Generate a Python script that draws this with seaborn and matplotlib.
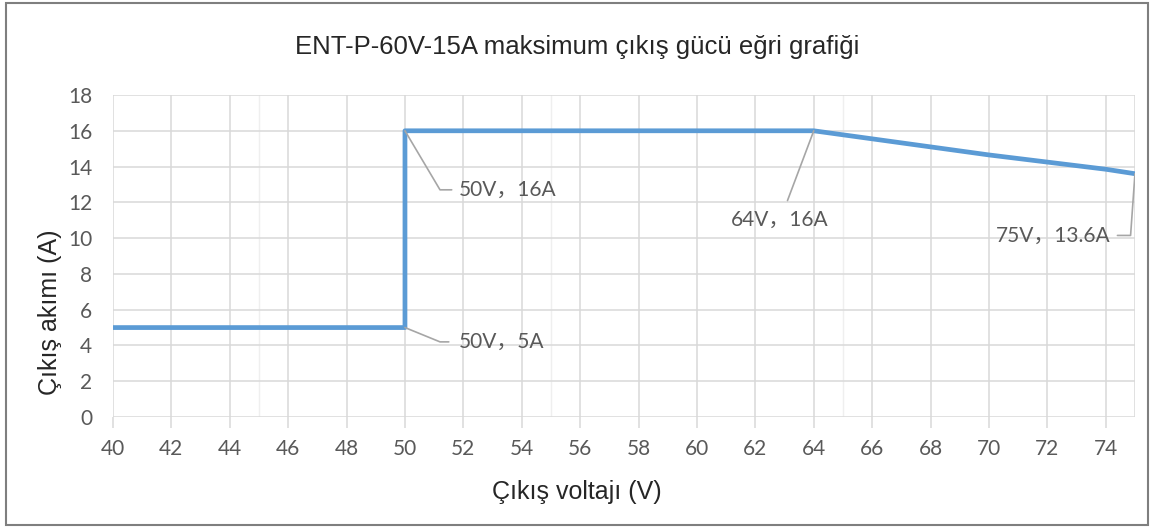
import matplotlib
matplotlib.use("Agg")
import matplotlib.pyplot as plt
import seaborn as sns
import pandas as pd
from matplotlib.patches import Rectangle

# values
voltage = [40, 50, 50, 64, 66, 68, 70, 72, 74, 75]
current = [5, 5, 16, 16, 15.55, 15.1, 14.65, 14.25, 13.85, 13.6]

callouts = ["50V，16A", "50V，5A", "64V，16A", "75V，13.6A"]

title = "ENT-P-60V-15A maksimum çıkış gücü eğri grafiği"
xlabel = "Çıkış voltajı (V)"
ylabel = "Çıkış akımı (A)"

df = pd.DataFrame({"V": voltage, "I": current})

sns.set_style("white")
plt.rcParams["font.family"] = ["Liberation Sans", "DejaVu Sans"]

fig = plt.figure(figsize=(11.54, 5.29), dpi=100)
ax = fig.add_axes([0.0979, 0.2117, 0.8856, 0.6087])

line_color = "#5B9BD5"
grid_color = "#D9D9D9"
text_color = "#595959"
label_font = ["Lato", "Noto Sans CJK SC", "DejaVu Sans"]

sns.lineplot(data=df, x="V", y="I", ax=ax, color=line_color, linewidth=3.4,
             sort=False, estimator=None, zorder=3)

ax.set_xlim(40, 75)
ax.set_ylim(0, 18)
ax.set_xticks(range(40, 75, 2))
ax.set_yticks(range(0, 19, 2))
ax.set_xticks([45, 55, 65], minor=True)
ax.grid(True, which="major", color=grid_color, linewidth=1.1, zorder=0)
ax.grid(True, which="minor", axis="x", color="#EFEFEF", linewidth=1.0, zorder=0)
ax.axvline(75, color=grid_color, linewidth=1.1, zorder=0)
for s in ax.spines.values():
    s.set_visible(False)

ax.tick_params(axis="x", which="major", length=8, width=1.1, color=grid_color,
               direction="out", pad=8, bottom=True)
ax.tick_params(axis="x", which="minor", length=0)
ax.tick_params(axis="y", length=0, pad=15)
for t in ax.get_xticklabels() + ax.get_yticklabels():
    t.set_family(label_font)
    t.set_fontsize(15)
    t.set_color(text_color)

ax.set_xlabel("")
ax.set_ylabel("")
fig.text(0.5, 0.070, xlabel, ha="center", va="center", fontsize=18, color="#262626")
fig.text(0.043, 0.41, ylabel, ha="center", va="center", rotation=90,
         fontsize=18, color="#262626")
fig.text(0.5, 0.911, title, ha="center", va="center", fontsize=18.5, color="#262626")

# callout labels with leader lines
lead = "#A6A6A6"
txt_kw = dict(fontsize=15, color=text_color, family=label_font, va="center")
ax.plot([50, 51.2, 51.6], [16, 12.7, 12.7], color=lead, lw=1.2, zorder=4)
ax.text(51.85, 12.7, callouts[0], ha="left", **txt_kw)
ax.plot([50, 51.2, 51.5], [5, 4.2, 4.2], color=lead, lw=1.2, zorder=4)
ax.text(51.85, 4.2, callouts[1], ha="left", **txt_kw)
ax.plot([64, 63.1], [16, 12.1], color=lead, lw=1.2, zorder=4)
ax.text(62.85, 11.0, callouts[2], ha="center", **txt_kw)
ax.plot([75, 74.85, 74.4], [13.6, 10.15, 10.15], color=lead, lw=1.2, zorder=4)
ax.text(74.15, 10.15, callouts[3], ha="right", **txt_kw)

# outer frame
fig.patches.append(Rectangle((0.005, 0.008), 0.99, 0.986, transform=fig.transFigure,
                             fill=False, edgecolor="#7F7F7F", linewidth=1.5))

fig.savefig("out.png", dpi=100)
